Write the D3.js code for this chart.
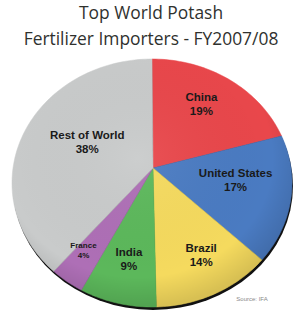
<!DOCTYPE html>
<html>
<head>
<meta charset="utf-8">
<script src="https://cdn.jsdelivr.net/npm/d3@7"></script>
<style>
  html, body { margin: 0; padding: 0; background: #fff; }
</style>
</head>
<body>
<div id="chart"></div>
<script>
// Data
const countries = ["China", "United States", "Brazil", "India", "France", "Rest of World"];
const shares = [19, 17, 14, 9, 4, 38];
const colors = ["#e9474b", "#4a7bc2", "#f5da5e", "#5cb85b", "#ae6fb6", "#c9cbcb"];

const width = 302, height = 320;

// tilted pie: rim is an ellipse, apex sits a bit above its centre
const cx = 152, cy = 183, rx = 140, ry = 124;
const apex = [153, 168];
const rim = a => [cx + rx * Math.sin(a), cy - ry * Math.cos(a)];

// small hand nudges for the labels
const labelNudge = [[-4, -5], [-11, -11], [6, 0], [0, -2], [-11, 4], [23, -5]];

const svg = d3.select("#chart")
    .append("svg")
    .attr("width", width)
    .attr("height", height);

// title
svg.append("g")
    .selectAll("text")
    .data(["Top World Potash", "Fertilizer Importers - FY2007/08"])
    .enter().append("text")
    .attr("x", 151)
    .attr("y", (d, i) => 19 + i * 26)
    .attr("text-anchor", "middle")
    .style("font-family", "'Open Sans', Lato, sans-serif")
    .style("font-size", "17.4px")
    .style("fill", "#2f312e")
    .text(d => d);

const defs = svg.append("defs");
const shade = defs.append("radialGradient")
    .attr("id", "shade")
    .attr("cx", "45%").attr("cy", "40%").attr("r", "60%");
shade.append("stop").attr("offset", "0%").attr("stop-color", "#fff").attr("stop-opacity", 0.06);
shade.append("stop").attr("offset", "80%").attr("stop-color", "#000").attr("stop-opacity", 0.0);
shade.append("stop").attr("offset", "100%").attr("stop-color", "#000").attr("stop-opacity", 0.12);

// shadow under the rim
svg.append("ellipse")
    .attr("cx", cx + 1)
    .attr("cy", cy + 3)
    .attr("rx", rx)
    .attr("ry", ry)
    .style("fill", "#111");

const pie = d3.pie().sort(null).value(d => d);
const arcs = pie(shares);

function slicePath(d) {
    const p = d3.path();
    p.moveTo(apex[0], apex[1]);
    const steps = Math.max(4, Math.ceil((d.endAngle - d.startAngle) * 40));
    for (let i = 0; i <= steps; i++) {
        const a = d.startAngle + (d.endAngle - d.startAngle) * i / steps;
        const pt = rim(a);
        p.lineTo(pt[0], pt[1]);
    }
    p.closePath();
    return p.toString();
}

svg.append("g")
    .selectAll("path")
    .data(arcs)
    .enter().append("path")
    .attr("d", slicePath)
    .style("fill", (d, i) => colors[i])
    .style("stroke", (d, i) => colors[i])
    .style("stroke-width", 0.5);

// soft shading over the whole disc
svg.append("ellipse")
    .attr("cx", cx)
    .attr("cy", cy)
    .attr("rx", rx)
    .attr("ry", ry)
    .style("fill", "url(#shade)");

// labels
const labels = svg.append("g")
    .selectAll("g")
    .data(arcs)
    .enter().append("g")
    .attr("transform", (d, i) => {
        const m = rim((d.startAngle + d.endAngle) / 2);
        const t = 0.68;
        const x = apex[0] + t * (m[0] - apex[0]) + labelNudge[i][0];
        const y = apex[1] + t * (m[1] - apex[1]) + labelNudge[i][1];
        return `translate(${x},${y})`;
    });

const small = i => countries[i] === "France";

labels.append("text")
    .attr("y", (d, i) => small(i) ? -1 : -2)
    .attr("text-anchor", "middle")
    .style("font-family", "'Liberation Sans', Arial, sans-serif")
    .style("font-weight", "bold")
    .style("font-size", (d, i) => small(i) ? "8px" : "11.5px")
    .style("fill", "#1a1a1a")
    .text((d, i) => countries[i]);

labels.append("text")
    .attr("y", (d, i) => small(i) ? 9 : 12)
    .attr("text-anchor", "middle")
    .style("font-family", "'Liberation Sans', Arial, sans-serif")
    .style("font-weight", "bold")
    .style("font-size", (d, i) => small(i) ? "8px" : "11.5px")
    .style("fill", "#1a1a1a")
    .text(d => d.data + "%");

// source note
svg.append("text")
    .attr("x", 252)
    .attr("y", 301)
    .attr("text-anchor", "middle")
    .style("font-family", "'Liberation Sans', Arial, sans-serif")
    .style("font-size", "6px")
    .style("fill", "#888")
    .text("Source: IFA");
</script>
</body>
</html>
